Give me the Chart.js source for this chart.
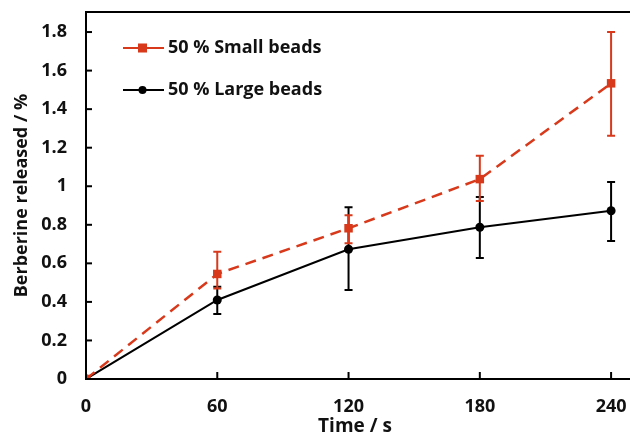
<!DOCTYPE html>
<html lang="en">
<head>
    <meta charset="UTF-8">
    <title>Berberine release</title>
    <script src="https://cdn.jsdelivr.net/npm/chart.js"></script>
    <style>
        body { margin: 0; background: #fff; }
        #wrap { width: 630px; height: 432px; }
    </style>
</head>
<body>
<div id="wrap"><canvas id="releaseChart" width="630" height="432"></canvas></div>
<script>
    // data
    const times = [0, 60, 120, 180, 240];
    const smallBeads = [0, 0.545, 0.782, 1.037, 1.534];
    const smallLow = [0, 0.47, 0.704, 0.923, 1.262];
    const smallHigh = [0, 0.66, 0.85, 1.158, 1.80];
    const largeBeads = [0, 0.41, 0.673, 0.787, 0.873];
    const largeLow = [0, 0.337, 0.462, 0.628, 0.716];
    const largeHigh = [0, 0.479, 0.891, 0.944, 1.022];
    const xTicks = [0, 60, 120, 180, 240];
    const yTicks = [0, 0.2, 0.4, 0.6, 0.8, 1, 1.2, 1.4, 1.6, 1.8];

    const RED = '#d8391b';
    const fontFam = '"Open Sans", Lato, sans-serif';

    const pts = (vals) => times.map((t, i) => ({x: t, y: vals[i]}));

    const extras = {
        id: 'extras',
        beforeDatasetsDraw(chart) {
            const {ctx, scales: {x, y}} = chart;
            ctx.save();
            // error bars under the markers
            const bars = [[largeLow, largeHigh, '#000'], [smallLow, smallHigh, RED]];
            bars.forEach(([lo, hi, col]) => {
                ctx.strokeStyle = col;
                ctx.lineWidth = 2;
                times.forEach((t, i) => {
                    if (hi[i] === lo[i]) return;
                    const px = x.getPixelForValue(t);
                    const y1 = y.getPixelForValue(lo[i]);
                    const y2 = y.getPixelForValue(hi[i]);
                    ctx.beginPath();
                    ctx.moveTo(px, y1); ctx.lineTo(px, y2);
                    ctx.moveTo(px - 4, y1); ctx.lineTo(px + 4, y1);
                    ctx.moveTo(px - 4, y2); ctx.lineTo(px + 4, y2);
                    ctx.stroke();
                });
            });
            ctx.restore();
        },
        afterDatasetsDraw(chart) {
            const {ctx, chartArea, scales: {x, y}} = chart;
            ctx.save();
            // frame: top line and x axis run to the canvas edge
            ctx.strokeStyle = '#000';
            ctx.lineWidth = 2;
            ctx.beginPath();
            ctx.moveTo(chartArea.left, chartArea.top);
            ctx.lineTo(chart.width, chartArea.top);
            ctx.moveTo(chartArea.right - 1, chartArea.bottom);
            ctx.lineTo(chart.width, chartArea.bottom);
            ctx.stroke();
            // inside ticks
            xTicks.forEach(v => {
                const px = x.getPixelForValue(v);
                ctx.beginPath();
                ctx.moveTo(px, chartArea.bottom);
                ctx.lineTo(px, chartArea.bottom - 7);
                ctx.stroke();
            });
            yTicks.forEach(v => {
                const py = y.getPixelForValue(v);
                ctx.beginPath();
                ctx.moveTo(chartArea.left, py);
                ctx.lineTo(chartArea.left + 6, py);
                ctx.stroke();
            });
            // legend
            ctx.font = 'bold 18px ' + fontFam;
            ctx.textBaseline = 'middle';
            const rows = [[chart.data.datasets[0], 48], [chart.data.datasets[1], 90]];
            rows.forEach(([ds, ly]) => {
                ctx.strokeStyle = ds.borderColor;
                ctx.fillStyle = ds.borderColor;
                ctx.lineWidth = 2;
                ctx.beginPath();
                ctx.moveTo(123, ly); ctx.lineTo(164, ly);
                ctx.stroke();
                if (ds.pointStyle === 'rect') {
                    ctx.fillRect(138, ly - 4.5, 9, 9);
                } else {
                    ctx.beginPath();
                    ctx.arc(142.5, ly, 4, 0, Math.PI * 2);
                    ctx.fill();
                }
                ctx.fillStyle = '#111';
                ctx.fillText(ds.label, 168, ly);
            });
            ctx.restore();
        }
    };

    new Chart(document.getElementById('releaseChart').getContext('2d'), {
        type: 'scatter',
        data: {
            datasets: [
                {
                    label: '50 % Small beads',
                    data: pts(smallBeads),
                    showLine: true,
                    borderColor: RED,
                    backgroundColor: RED,
                    borderWidth: 2.5,
                    borderDash: [11, 7],
                    pointStyle: 'rect',
                    pointRadius: 6,
                    pointBorderWidth: 0
                },
                {
                    label: '50 % Large beads',
                    data: pts(largeBeads),
                    showLine: true,
                    borderColor: '#000',
                    backgroundColor: '#000',
                    borderWidth: 2,
                    pointStyle: 'circle',
                    pointRadius: 4.5,
                    pointBorderWidth: 0
                }
            ]
        },
        options: {
            responsive: false,
            animation: false,
            layout: {padding: {top: 12, right: -6, left: 0, bottom: 0}},
            plugins: {legend: {display: false}, tooltip: {enabled: false}},
            scales: {
                x: {
                    type: 'linear',
                    min: 0,
                    max: 245.9,
                    afterBuildTicks: (s) => { s.ticks = xTicks.map(v => ({value: v})); },
                    afterFit: (s) => { s.height = 53; s.paddingRight = 0; s.paddingLeft = 0; },
                    grid: {display: false, drawTicks: false},
                    border: {display: true, color: '#000', width: 2},
                    ticks: {
                        color: '#111',
                        padding: 17,
                        font: {family: fontFam, size: 18, weight: 'bold'}
                    },
                    title: {
                        display: true,
                        text: 'Time / s',
                        color: '#111',
                        padding: {top: 0, bottom: -6},
                        font: {family: fontFam, size: 19, weight: 'bold'}
                    }
                },
                y: {
                    min: 0,
                    max: 1.904,
                    afterBuildTicks: (s) => { s.ticks = yTicks.map(v => ({value: v})); },
                    afterFit: (s) => { s.width = 86; s.paddingTop = 0; s.paddingBottom = 0; },
                    grid: {display: false, drawTicks: false},
                    border: {display: true, color: '#000', width: 2},
                    ticks: {
                        color: '#111',
                        padding: 19,
                        font: {family: fontFam, size: 18, weight: 'bold'},
                        callback: (v) => String(Math.round(v * 10) / 10)
                    },
                    title: {
                        display: true,
                        text: 'Berberine released / %',
                        color: '#111',
                        padding: {top: 11, bottom: 0},
                        font: {family: fontFam, size: 18, weight: 'bold'}
                    }
                }
            }
        },
        plugins: [extras]
    });
</script>
</body>
</html>
